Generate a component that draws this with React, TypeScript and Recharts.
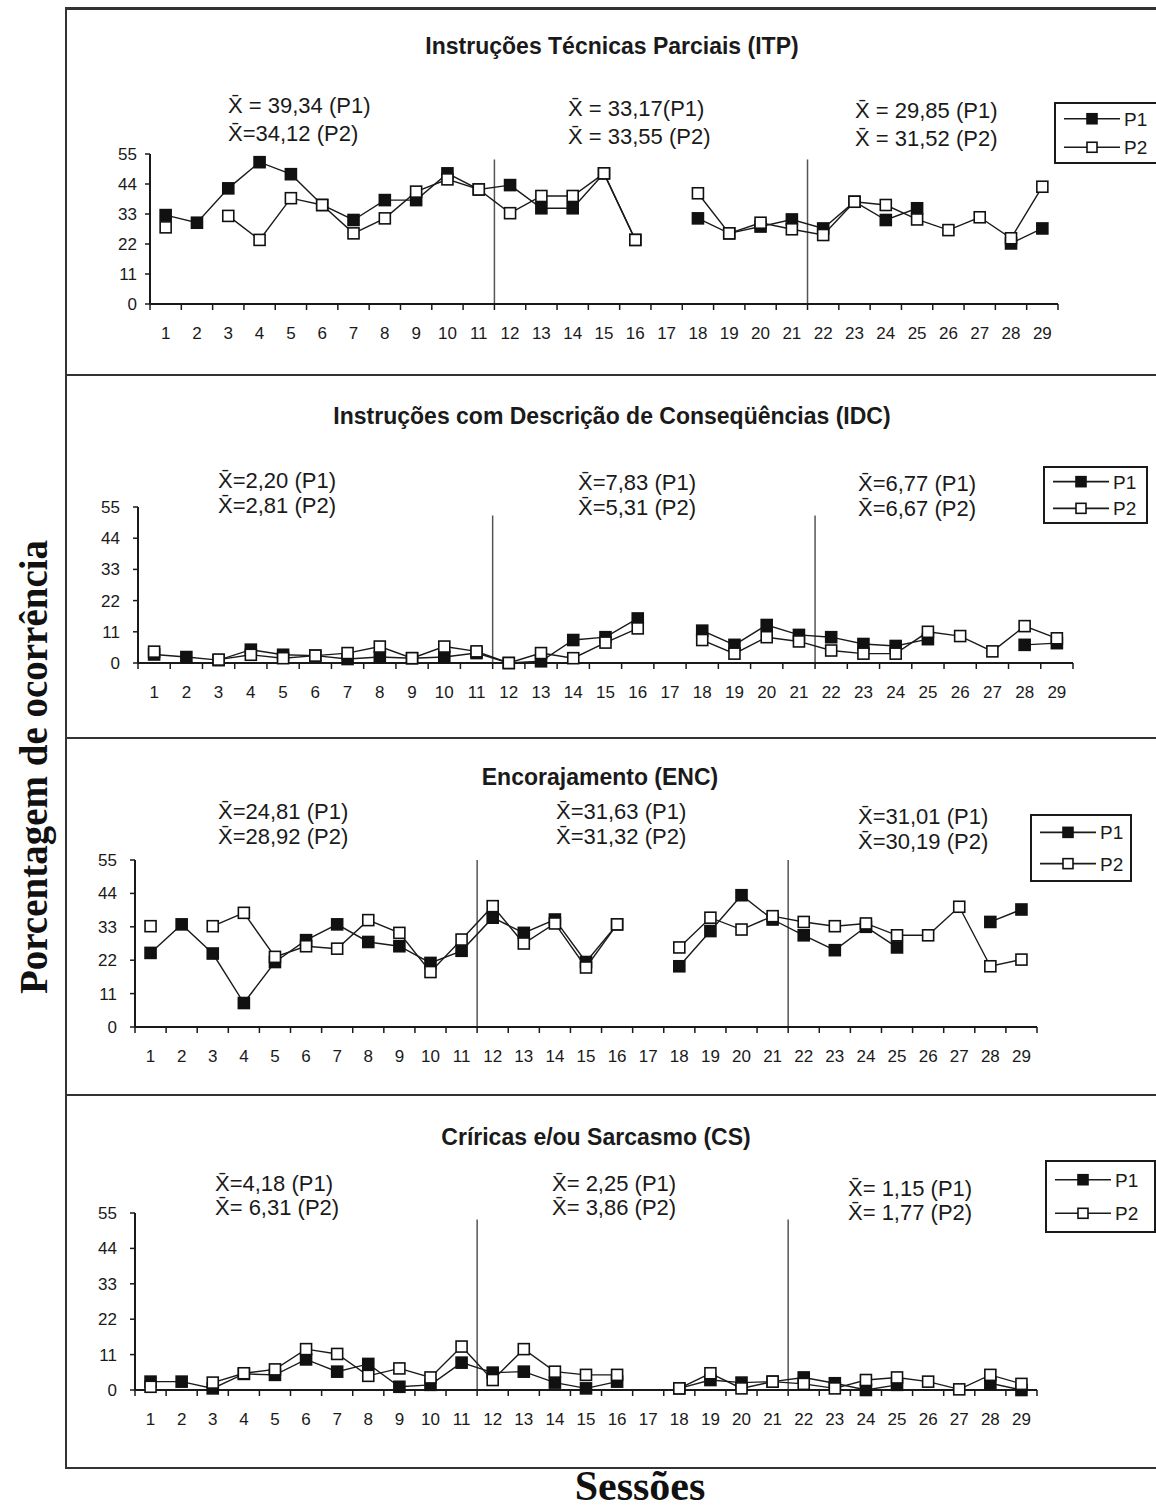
import React from 'react';
import { LineChart, Line, XAxis, YAxis, ReferenceLine } from 'recharts';

// sessions and y ticks
const sessions = [1, 2, 3, 4, 5, 6, 7, 8, 9, 10, 11, 12, 13, 14, 15, 16, 17, 18, 19, 20, 21, 22, 23, 24, 25, 26, 27, 28, 29];
const yTicks = [0, 11, 22, 33, 44, 55];
const phaseBreaks = [11.5, 21.5];

// Instruções Técnicas Parciais
const itpP1 = [32.6, 29.8, 42.4, 52, 47.6, 36.3, 30.8, 38.1, 38.1, 47.9, 42, 43.6, 35.1, 35.1, 47.9, 23.5, null, 31.4, 25.9, 28.4, 31, 27.7, 37.5, 30.8, 35.1, null, null, 22.2, 27.7];
const itpP2 = [28.1, null, 32.3, 23.5, 38.8, 36.3, 25.9, 31.4, 41.2, 45.7, 42, 33.3, 39.6, 39.6, 47.9, 23.5, null, 40.6, 25.9, 29.8, 27.4, 25.3, 37.5, 36.3, 31, 27.1, 31.8, 24.1, 43];
const itpMeans = [['X̄ = 39,34 (P1)', 'X̄=34,12 (P2)'], ['X̄ = 33,17(P1)', 'X̄ = 33,55 (P2)'], ['X̄ = 29,85 (P1)', 'X̄ = 31,52 (P2)']];

// Instruções com Descrição de Conseqüências
const idcP1 = [3.0, 2.1, 1.0, 4.7, 2.9, 2.6, 1.4, 2.1, 1.7, 2.1, 3.5, 0, 0.6, 8.1, 9.1, 15.7, null, 11.4, 6.4, 13.4, 9.9, 9.1, 6.7, 6.0, 8.4, null, null, 6.4, 7.0];
const idcP2 = [4.0, null, 1.2, 2.9, 1.7, 2.6, 3.5, 5.8, 1.7, 5.8, 4.1, 0, 3.5, 1.7, 7.2, 12.2, null, 8.1, 3.3, 9.1, 7.6, 4.4, 3.3, 3.3, 11.0, 9.5, 4.1, 13.0, 8.7];
const idcMeans = [['X̄=2,20 (P1)', 'X̄=2,81 (P2)'], ['X̄=7,83 (P1)', 'X̄=5,31 (P2)'], ['X̄=6,77 (P1)', 'X̄=6,67 (P2)']];

// Encorajamento
const encP1 = [24.4, 33.8, 24.2, 7.9, 21.4, 28.6, 33.8, 28.0, 26.6, 21.1, 25.1, 36.0, 31.0, 35.4, 21.4, 33.8, null, 20.0, 31.6, 43.4, 35.4, 30.2, 25.3, 33.0, 26.2, null, null, 34.6, 38.7];
const encP2 = [33.2, null, 33.2, 37.6, 23.1, 26.6, 25.8, 35.2, 31.0, 18.1, 28.8, 39.8, 27.5, 34.1, 19.6, 33.8, null, 26.2, 36.0, 32.1, 36.5, 34.6, 33.2, 34.1, 30.2, 30.2, 39.6, 20.0, 22.2];
const encMeans = [['X̄=24,81 (P1)', 'X̄=28,92 (P2)'], ['X̄=31,63 (P1)', 'X̄=31,32 (P2)'], ['X̄=31,01 (P1)', 'X̄=30,19 (P2)']];

// Críticas e/ou Sarcasmo
const csP1 = [2.6, 2.6, 0.5, 5.0, 4.7, 9.5, 5.7, 8.1, 1.0, 1.6, 8.5, 5.4, 5.7, 2.3, 0.5, 2.6, null, 0.5, 3.1, 2.3, 2.6, 3.9, 2.1, 0, 1.6, null, null, 2.1, 0];
const csP2 = [1.0, null, 2.3, 5.2, 6.4, 12.7, 11.2, 4.4, 6.7, 3.9, 13.5, 3.1, 12.7, 5.7, 4.7, 4.7, null, 0.5, 5.2, 0.5, 2.6, 1.9, 0.5, 3.1, 3.9, 2.6, 0.2, 4.7, 1.9];
const csMeans = [['X̄=4,18 (P1)', 'X̄= 6,31 (P2)'], ['X̄= 2,25 (P1)', 'X̄= 3,86 (P2)'], ['X̄= 1,15 (P1)', 'X̄= 1,77 (P2)']];

const INK = '#1a1a1a';
const SANS = '"Liberation Sans", Arial, sans-serif';

const panels = [
  {
    title: 'Instruções Técnicas Parciais (ITP)', p1: itpP1, p2: itpP2, means: itpMeans,
    left: 150, right: 1058, top: 154, bottom: 304, yGap: 8, lineTop: 53,
    titleY: 46, titleX: 612, meanPos: [[228, 105], [568, 108], [855, 110]], lineGap: 28,
    legend: [1054, 102, 110, 62],
  },
  {
    title: 'Instruções com Descrição de Conseqüências (IDC)', p1: idcP1, p2: idcP2, means: idcMeans,
    left: 138, right: 1073, top: 507, bottom: 663, yGap: 13, lineTop: 52,
    titleY: 416, titleX: 612, meanPos: [[218, 481], [578, 483], [858, 484]], lineGap: 25,
    legend: [1043, 466, 105, 58],
  },
  {
    title: 'Encorajamento (ENC)', p1: encP1, p2: encP2, means: encMeans,
    left: 135, right: 1037, top: 860, bottom: 1027, yGap: 13, lineTop: 55,
    titleY: 777, titleX: 600, meanPos: [[218, 812], [556, 812], [858, 817]], lineGap: 25,
    legend: [1030, 814, 102, 68],
  },
  {
    title: 'Críricas e/ou Sarcasmo (CS)', p1: csP1, p2: csP2, means: csMeans,
    left: 135, right: 1037, top: 1213, bottom: 1390, yGap: 13, lineTop: 53,
    titleY: 1137, titleX: 596, meanPos: [[215, 1185], [552, 1185], [848, 1190]], lineGap: 24,
    legend: [1045, 1160, 111, 73],
  },
];

const squareDot = (filled: boolean) => (props: any) => {
  const { cx, cy, index, value } = props;
  if (value == null || cx == null || cy == null || Number.isNaN(cy)) return <g key={`e${index}`} />;
  return (
    <rect key={`d${index}`} x={cx - 5.5} y={cy - 5.5} width={11} height={11}
      fill={filled ? '#111' : '#fff'} stroke="#111" strokeWidth={1.6} />
  );
};

// session label plus Excel-style tick marks between categories
const sessionTick = (band: number) => (props: any) => {
  const { x, y, payload, index } = props;
  const last = index === sessions.length - 1;
  return (
    <g key={`t${index}`}>
      <line x1={x - band / 2} x2={x - band / 2} y1={y} y2={y + 6} stroke={INK} strokeWidth={1.5} />
      {last && <line x1={x + band / 2} x2={x + band / 2} y1={y} y2={y + 6} stroke={INK} strokeWidth={1.5} />}
      <text x={x} y={y + 35} textAnchor="middle" fontSize={17} fill={INK} fontFamily={SANS}>{payload.value}</text>
    </g>
  );
};

function Legend({ box }: { box: number[] }) {
  const [x, y, w, h] = box;
  return (
    <div style={{ position: 'absolute', left: x, top: y, width: w, height: h, border: `2px solid ${INK}`, background: '#fff', boxSizing: 'border-box' }}>
      <svg width={w} height={h} style={{ position: 'absolute', left: 0, top: 0 }}>
        {[0, 1].map((i) => {
          const cy = h * (i === 0 ? 0.27 : 0.73) - 2;
          return (
            <g key={i}>
              <line x1={8} x2={64} y1={cy} y2={cy} stroke={INK} strokeWidth={1.6} />
              <rect x={31} y={cy - 5} width={10} height={10} fill={i === 0 ? '#111' : '#fff'} stroke="#111" strokeWidth={1.6} />
              <text x={68} y={cy + 7} fontSize={19} fill={INK} fontFamily={SANS}>{i === 0 ? 'P1' : 'P2'}</text>
            </g>
          );
        })}
      </svg>
    </div>
  );
}

function Panel({ p }: { p: any }) {
  const data = sessions.map((s, i) => ({ s, p1: p.p1[i], p2: p.p2[i] }));
  const plotH = p.bottom - p.top;
  const chartH = plotH + 10 + 45;
  const band = (p.right - p.left) / sessions.length;
  return (
    <>
      <div style={{ position: 'absolute', left: p.titleX, top: p.titleY, transform: 'translate(-50%, -50%)', whiteSpace: 'nowrap', fontWeight: 'bold', fontSize: 23, color: INK }}>
        {p.title}
      </div>
      {p.means.map((m: string[], i: number) => (
        <div key={i} style={{ position: 'absolute', left: p.meanPos[i][0], top: p.meanPos[i][1] - 13, fontSize: 22, lineHeight: `${p.lineGap}px`, whiteSpace: 'nowrap', color: INK }}>
          <div>{m[0]}</div>
          <div>{m[1]}</div>
        </div>
      ))}
      <div style={{ position: 'absolute', left: 0, top: p.top - 10 }}>
        <LineChart width={1156} height={chartH} data={data} margin={{ top: 10, right: 1156 - p.right, bottom: 0, left: 0 }}>
          <XAxis dataKey="s" type="number" domain={[0.5, 29.5]} ticks={sessions}
            axisLine={{ stroke: INK, strokeWidth: 2 }} tickLine={false} tickSize={0} tickMargin={0} height={45} interval={0}
            tick={sessionTick(band)} />
          <YAxis domain={[0, 55]} ticks={yTicks} width={p.left} tickSize={5} tickMargin={p.yGap} interval={0}
            axisLine={{ stroke: INK, strokeWidth: 2 }} tickLine={{ stroke: INK, strokeWidth: 1.5 }}
            tick={{ fontSize: 17, fill: INK, fontFamily: SANS }} />
          {phaseBreaks.map((b) => (
            <ReferenceLine key={b} segment={[{ x: b, y: 0 }, { x: b, y: p.lineTop }]} stroke="#555" strokeWidth={1.5} />
          ))}
          <Line dataKey="p1" stroke={INK} strokeWidth={1.4} dot={squareDot(true)} activeDot={false} isAnimationActive={false} />
          <Line dataKey="p2" stroke={INK} strokeWidth={1.4} dot={squareDot(false)} activeDot={false} isAnimationActive={false} />
        </LineChart>
      </div>
      <Legend box={p.legend} />
    </>
  );
}

export default function App() {
  const hLine = (y: number, t: number) => (
    <div key={y} style={{ position: 'absolute', left: 66, top: y, width: 1156 - 66, height: t, background: '#333' }} />
  );
  return (
    <div style={{ position: 'absolute', left: 0, top: 0, width: 1156, height: 1508, background: '#fff', overflow: 'hidden', fontFamily: SANS }}>
      {hLine(7, 3)}
      {hLine(374, 2)}
      {hLine(737, 2)}
      {hLine(1094, 2)}
      {hLine(1467, 2)}
      <div style={{ position: 'absolute', left: 65, top: 7, width: 2, height: 1462, background: '#333' }} />
      {panels.map((p, i) => <Panel key={i} p={p} />)}
      <div style={{ position: 'absolute', left: 33, top: 767, transform: 'translate(-50%, -50%) rotate(-90deg)', whiteSpace: 'nowrap', fontFamily: '"Liberation Serif", "Times New Roman", serif', fontWeight: 'bold', fontSize: 39, lineHeight: 1, color: '#111' }}>
        Porcentagem de ocorrência
      </div>
      <div style={{ position: 'absolute', left: 640, top: 1486, transform: 'translate(-50%, -50%)', whiteSpace: 'nowrap', fontFamily: '"Liberation Serif", "Times New Roman", serif', fontWeight: 'bold', fontSize: 42, lineHeight: 1, color: '#111' }}>
        Sessões
      </div>
    </div>
  );
}
